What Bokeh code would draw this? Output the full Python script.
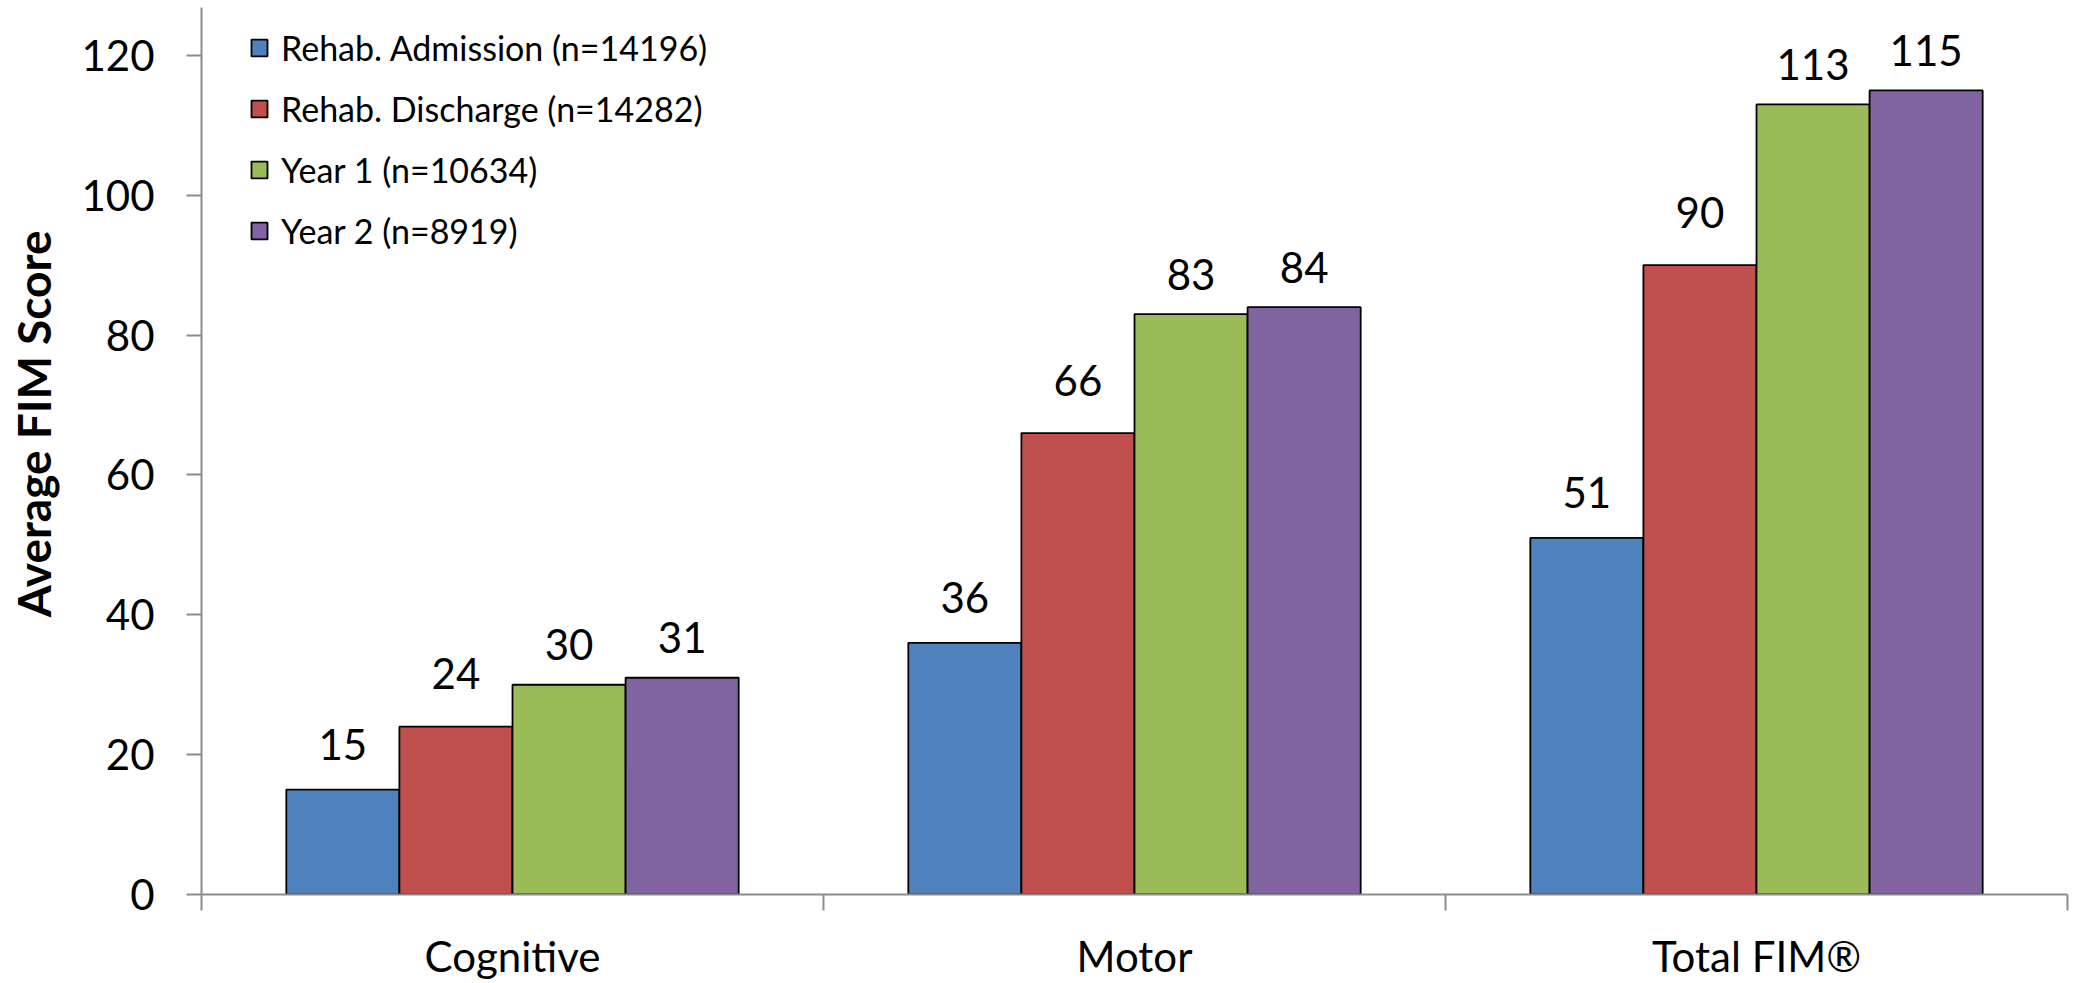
from bokeh.plotting import figure
from bokeh.models import Range1d, FixedTicker, Legend, LegendItem
from bokeh.core.properties import value
from bokeh.embed import file_html
from bokeh.resources import INLINE

# ---- data ----
categories = ["Cognitive", "Motor", "Total FIM®"]
series_names = [
    "Rehab. Admission (n=14196)",
    "Rehab. Discharge (n=14282)",
    "Year 1 (n=10634)",
    "Year 2 (n=8919)",
]
admission = [15, 36, 51]
discharge = [24, 66, 90]
year1 = [30, 83, 113]
year2 = [31, 84, 115]
y_ticks = [0, 20, 40, 60, 80, 100, 120]
y_title = "Average FIM Score"

# ---- styles ----
FONT = "Lato"
colors = ["#4F81BD", "#C0504D", "#9BBB59", "#8064A2"]
label_gaps = [45, 53, 40, 40]
AXIS_COLOR = "#8C8C8C"

W, H = 2074, 983
p = figure(width=W, height=H, output_backend="svg", toolbar_location=None,
           x_range=Range1d(0, 3), y_range=Range1d(0, 126.86),
           min_border_left=201, min_border_right=7, min_border_top=7,
           min_border_bottom=87)
p.outline_line_color = None
p.xgrid.visible = False
p.ygrid.visible = False
p.background_fill_color = "white"
p.border_fill_color = "white"

n_series = 4
bw = 1 / 5.5
series_vals = [admission, discharge, year1, year2]
items = []
for i, (name, vals, col, gap) in enumerate(zip(series_names, series_vals, colors, label_gaps)):
    xs = [k + 0.5 + (i - (n_series - 1) / 2) * bw for k in range(len(categories))]
    r = p.vbar(x=xs, top=vals, bottom=0, width=bw, fill_color=col,
               line_color="#000000", line_width=1.8)
    p.text(x=xs, y=vals, text=[str(v) for v in vals], text_align="center",
           text_baseline="alphabetic", y_offset=-gap, text_font=value(FONT),
           text_font_size="42px", text_color="#000000")
    items.append(LegendItem(label=name, renderers=[r]))

legend = Legend(items=items, location=(48, 633))
legend.background_fill_alpha = 0
legend.border_line_color = None
legend.padding = 0
legend.margin = 0
legend.spacing = 0
legend.glyph_width = 20
legend.glyph_height = 21
legend.label_height = 61
legend.label_standoff = 12
legend.label_text_font = FONT
legend.label_text_font_size = "34px"
legend.label_text_color = "#000000"
p.add_layout(legend)

# x axis: category names centred, separator ticks between categories
xa = p.xaxis[0]
xa.ticker = FixedTicker(ticks=[0.5, 1.5, 2.5], minor_ticks=[0, 1, 2, 3])
xa.major_label_overrides = {0.5: categories[0], 1.5: categories[1], 2.5: categories[2]}
xa.major_tick_out = 0
xa.major_tick_in = 0
xa.minor_tick_out = 16
xa.minor_tick_in = 0
xa.minor_tick_line_color = AXIS_COLOR
xa.minor_tick_line_width = 2
xa.axis_line_color = AXIS_COLOR
xa.axis_line_width = 2
xa.major_label_standoff = 20
xa.major_label_text_font = FONT
xa.major_label_text_font_size = "42px"
xa.major_label_text_color = "#000000"

# y axis
ya = p.yaxis[0]
ya.ticker = FixedTicker(ticks=y_ticks, minor_ticks=[])
ya.major_tick_out = 15
ya.major_tick_in = 0
ya.minor_tick_out = 0
ya.minor_tick_in = 0
ya.major_tick_line_color = AXIS_COLOR
ya.major_tick_line_width = 2
ya.axis_line_color = AXIS_COLOR
ya.axis_line_width = 2
ya.major_label_standoff = 32
ya.major_label_text_font = FONT
ya.major_label_text_font_size = "42px"
ya.major_label_text_color = "#000000"
# leading no-break spaces lift the centred title slightly, as in the original
ya.axis_label = "\u00a0" * 5 + y_title
ya.axis_label_standoff = 17
ya.axis_label_text_font = FONT
ya.axis_label_text_font_style = "bold"
ya.axis_label_text_font_size = "46px"
ya.axis_label_text_color = "#000000"

open("out.html", "w").write(file_html(p, INLINE))
